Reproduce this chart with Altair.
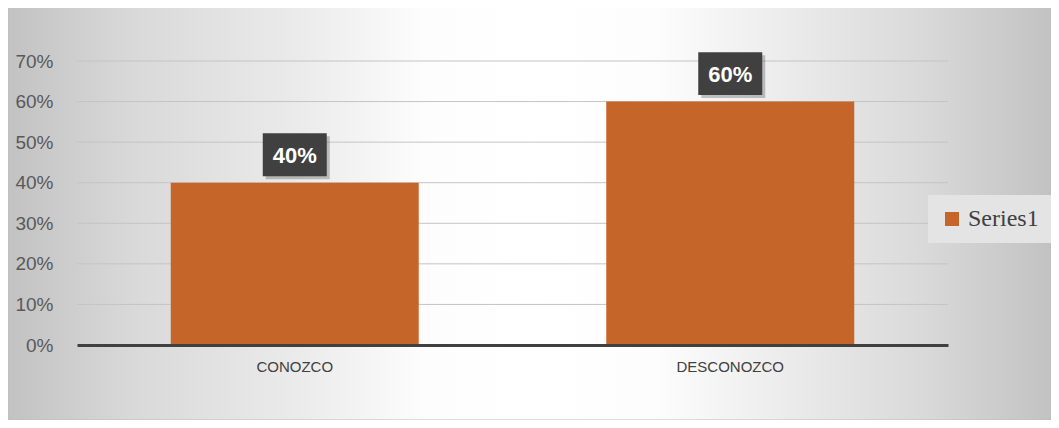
import altair as alt
import pandas as pd

categories = ["CONOZCO", "DESCONOZCO"]
values = [0.40, 0.60]
labels = ["40%", "60%"]
series = ["Series1", "Series1"]
grid_ticks = [0.1, 0.2, 0.3, 0.4, 0.5, 0.6, 0.7]
axis_ticks = [0, 0.1, 0.2, 0.3, 0.4, 0.5, 0.6, 0.7]

W, H = 871, 284
PAD = {"left": 69, "top": 53, "right": 1043 - 69 - W, "bottom": 412 - 53 - H}

df = pd.DataFrame({"cat": categories, "val": values, "lab": labels, "series": series})
ticks_df = pd.DataFrame({"t": grid_ticks})
bg_df = pd.DataFrame({"a": [0]})

xscale = alt.Scale(domain=categories, paddingInner=0.43, paddingOuter=0.215)
yscale = alt.Scale(domain=[0, 0.7])

yaxis = alt.Axis(values=axis_ticks, format=".0%", grid=False, domain=False, ticks=False,
                 labelFont="Liberation Sans", labelFontSize=19,
                 labelColor="#595959", labelPadding=24, zindex=1)
xaxis = alt.Axis(domainColor="#404040", domainWidth=3, ticks=False,
                 labelAngle=0, labelFont="Liberation Sans",
                 labelFontSize=15, labelColor="#404040",
                 labelPadding=14, zindex=1)

grad = alt.LinearGradient(
    gradient="linear",
    x1=0, x2=1, y1=0.5, y2=0.5,
    stops=[
        alt.GradientStop(color="#c2c2c2", offset=0),
        alt.GradientStop(color="#d9d9d9", offset=0.12),
        alt.GradientStop(color="#ebebeb", offset=0.28),
        alt.GradientStop(color="#fdfdfd", offset=0.40),
        alt.GradientStop(color="#ffffff", offset=0.5),
        alt.GradientStop(color="#fdfdfd", offset=0.62),
        alt.GradientStop(color="#ebebeb", offset=0.75),
        alt.GradientStop(color="#d9d9d9", offset=0.88),
        alt.GradientStop(color="#c2c2c2", offset=1),
    ],
)

bg = alt.Chart(bg_df).mark_rect(fill=grad, stroke="#bdbdbd", strokeWidth=1).encode(
    x=alt.value(-69), x2=alt.value(1043 - 69),
    y=alt.value(-54), y2=alt.value(412 - 53),
)

grid = alt.Chart(ticks_df).mark_rule(color="#c4c4c4", strokeWidth=1).encode(
    y=alt.Y("t:Q", scale=yscale, title=None, axis=yaxis),
    x=alt.value(0), x2=alt.value(W),
)

bars = alt.Chart(df).mark_bar(size=248).encode(
    x=alt.X("cat:N", scale=xscale, sort=categories, title=None, axis=xaxis),
    y=alt.Y("val:Q", scale=yscale, title=None, axis=yaxis),
    color=alt.Color("series:N", scale=alt.Scale(range=["#C5652A"]),
                    legend=alt.Legend(title=None, orient="none", legendX=851, legendY=134,
                                      fillColor="#e4e4e4", padding=12,
                                      symbolType="square", symbolSize=196,
                                      symbolStrokeWidth=0, labelFont="Liberation Serif",
                                      labelFontSize=24, labelColor="#404040",
                                      labelOffset=4, zindex=1)),
)

box_path = "M-1,-0.67H1V0.67H-1Z"

shadow = alt.Chart(df).mark_point(shape=box_path, size=64 * 64, filled=True,
                                  fill="#000000", opacity=0.22, strokeWidth=0,
                                  xOffset=3, yOffset=-25).encode(
    x=alt.X("cat:N", scale=xscale, sort=categories, title=None, axis=xaxis),
    y=alt.Y("val:Q", scale=yscale, title=None, axis=yaxis),
)

boxes = alt.Chart(df).mark_point(shape=box_path, size=64 * 64, filled=True,
                                 fill="#404040", opacity=1, strokeWidth=0,
                                 yOffset=-28).encode(
    x=alt.X("cat:N", scale=xscale, sort=categories, title=None, axis=xaxis),
    y=alt.Y("val:Q", scale=yscale, title=None, axis=yaxis),
)

texts = alt.Chart(df).mark_text(color="white", font="Liberation Sans", fontWeight="bold",
                                fontSize=22, baseline="middle", align="center",
                                yOffset=-27).encode(
    x=alt.X("cat:N", scale=xscale, sort=categories, title=None, axis=xaxis),
    y=alt.Y("val:Q", scale=yscale, title=None, axis=yaxis),
    text="lab:N",
)

chart = alt.layer(bg, grid, bars, shadow, boxes, texts).properties(
    width=W, height=H,
    autosize=alt.AutoSizeParams(type="none"),
    padding=PAD,
).configure_view(stroke=None)

chart.save("out.html", embed_options={"renderer": "svg", "actions": False})
